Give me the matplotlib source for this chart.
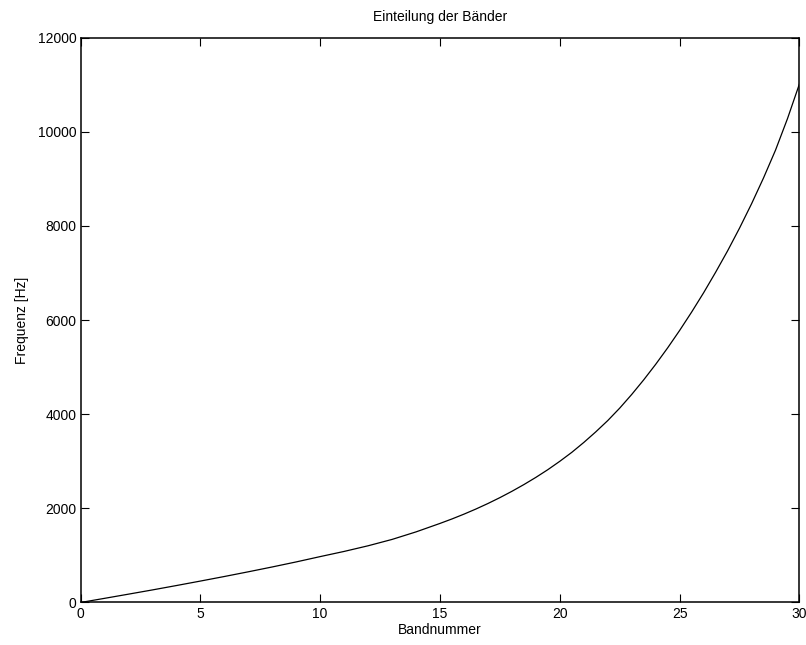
import numpy as np
import matplotlib.pyplot as plt

# Bandnummer und Frequenz
bands = [0, 1, 2, 3, 4, 5, 6, 7, 8, 9,
         10, 11, 12, 13, 14, 15, 15.5, 16, 16.5, 17,
         17.5, 18, 18.5, 19, 19.5, 20, 20.5, 21, 21.5, 22,
         22.5, 23, 23.5, 24, 24.5, 25, 25.5, 26, 26.5, 27,
         27.5, 28, 28.5, 29, 29.5, 30]
freq = [0, 88, 177, 267, 360, 455, 552, 652, 755, 862,
        975, 1085, 1205, 1340, 1500, 1680, 1775, 1877, 1986, 2103,
        2228, 2362, 2505, 2658, 2822, 3000, 3190, 3400, 3625, 3865,
        4130, 4420, 4730, 5060, 5410, 5780, 6170, 6580, 7015, 7470,
        7955, 8470, 9020, 9610, 10280, 11020]
xticks = [0, 5, 10, 15, 20, 25, 30]
yticks = [0, 2000, 4000, 6000, 8000, 10000, 12000]

plt.rcParams['font.family'] = ['Liberation Sans', 'DejaVu Sans']
plt.rcParams['font.size'] = 10

fig = plt.figure(figsize=(8.06, 6.45), dpi=100)
ax = fig.add_axes([0.0999, 0.0659, 0.892, 0.8757])

ax.plot(bands, freq, color='black', linewidth=0.9)

ax.set_xlim(0, 30)
ax.set_ylim(0, 12000)
ax.set_xticks(xticks)
ax.set_yticks(yticks)
ax.tick_params(direction='in', top=True, right=True, length=6, width=0.8, pad=3)
for s in ax.spines.values():
    s.set_linewidth(1.1)

ax.set_title('Einteilung der Bänder', fontsize=10, pad=12)
ax.set_xlabel('Bandnummer', labelpad=2)
ax.set_ylabel('Frequenz [Hz]', labelpad=6)

fig.savefig('out.png', dpi=100)
